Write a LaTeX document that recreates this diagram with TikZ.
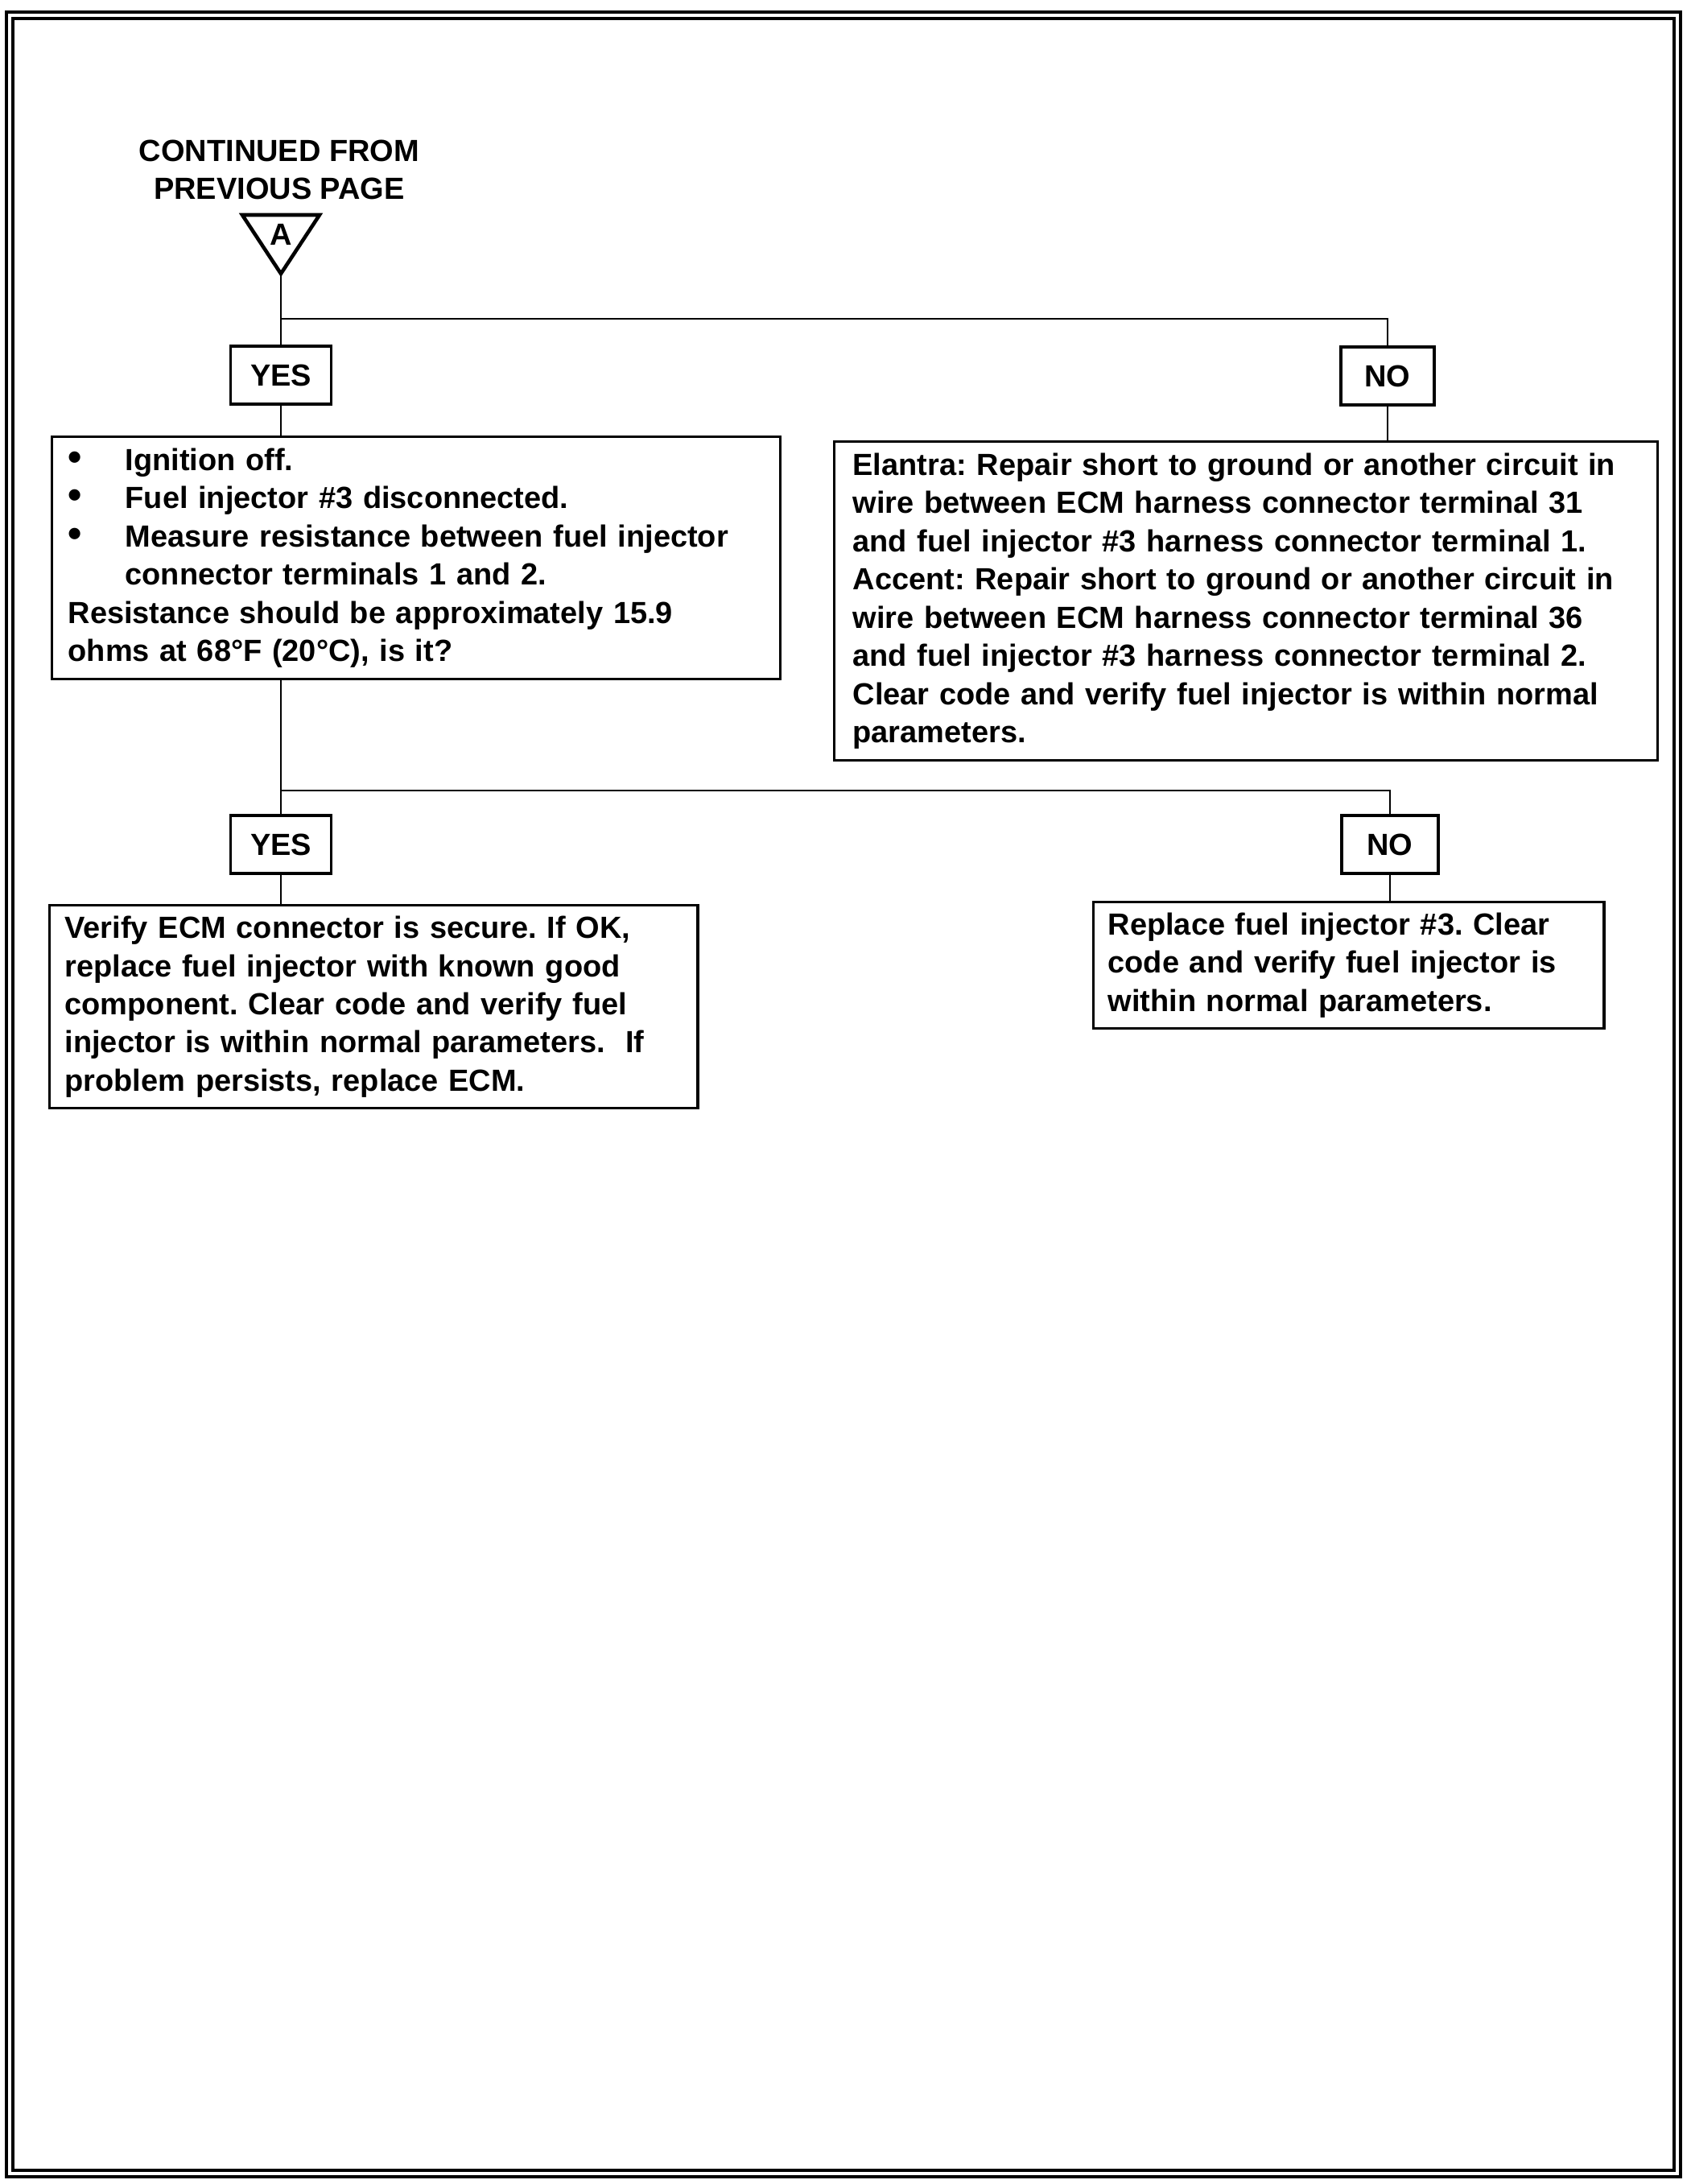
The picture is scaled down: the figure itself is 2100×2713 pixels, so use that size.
\documentclass[tikz,border=0pt]{standalone}
\usepackage{fontspec}
\setmainfont{Liberation Sans}
\usetikzlibrary{positioning}

\tikzset{
  answer/.style={draw, line width=0.9pt, minimum width=1.25cm, minimum height=0.72cm, inner sep=0pt},
  stepbox/.style={draw, line width=0.9pt, anchor=north west, align=left, inner ysep=0pt},
  link/.style={line width=0.8pt},
}
\newcommand{\bul}{\makebox[0.71cm][l]{\fontsize{14}{13.5}\selectfont\textbullet}}
\frenchspacing

\begin{document}
\begin{tikzpicture}[x=0.01cm, y=-0.01cm, font=\fontsize{10.8}{13.5}\selectfont\bfseries]
\useasboundingbox (0,0) rectangle (2100,2713);
\fill[white] (0,0) rectangle (2100,2713);

% Frame
\draw[line width=1.3pt] (8,15) rectangle (2088,2704);
\draw[line width=1.3pt] (16,23) rectangle (2080,2696);

% Connector A
\node[align=center] (cont) at (347,211) {CONTINUED FROM\\PREVIOUS PAGE};
\draw[line width=1.3pt] (301,267) -- (397,267) -- (349,340) -- cycle;
\node (conA) at (349,291) {A};
\coordinate (apexA) at (349,340);
\coordinate (splitA) at (349,396);

% First test
\node[answer] (yesA) at (349,466) {YES};
\node[answer, minimum width=1.16cm] (noA) at (1724,467) {NO};
\node[stepbox, text width=8.64cm, minimum height=3.01cm, inner xsep=0.2cm] (test) at (63,541) {%
\bul Ignition off.\\
\bul Fuel injector \#3 disconnected.\\
\bul Measure resistance between fuel injector\\
\hspace*{0.71cm}connector terminals 1 and 2.\\
Resistance should be approximately 15.9\\
ohms at 68°F (20°C), is it?};
\node[stepbox, text width=9.76cm, minimum height=3.96cm, inner xsep=0.23cm] (repair) at (1035,547) {%
Elantra: Repair short to ground or another circuit in\\
wire between ECM harness connector terminal 31\\
and fuel injector \#3 harness connector terminal 1.\\
Accent: Repair short to ground or another circuit in\\
wire between ECM harness connector terminal 36\\
and fuel injector \#3 harness connector terminal 2.\\
Clear code and verify fuel injector is within normal\\
parameters.};

\draw[link] (apexA) -- (yesA.north);
\draw[link] (splitA) -| (noA.north);
\draw[link] (yesA.south) -- (yesA.south |- test.north);
\draw[link] (noA.south) -- (noA.south |- repair.north);

% Second test
\coordinate (splitB) at (349,982);
\node[answer] (yesB) at (349,1049) {YES};
\node[answer, minimum width=1.2cm] (noB) at (1727,1049) {NO};
\node[stepbox, text width=7.67cm, minimum height=2.52cm, inner xsep=0.19cm] (verify) at (60,1123) {%
Verify ECM connector is secure. If OK,\\
replace fuel injector with known good\\
component. Clear code and verify fuel\\
injector is within normal parameters.\ \ If\\
problem persists, replace ECM.};
\node[stepbox, text width=5.98cm, minimum height=1.57cm, inner xsep=0.18cm] (replace) at (1357,1119) {%
Replace fuel injector \#3. Clear\\
code and verify fuel injector is\\
within normal parameters.};

\draw[link] (yesB.north |- test.south) -- (yesB.north);
\draw[link] (splitB) -| (noB.north);
\draw[link] (yesB.south) -- (yesB.south |- verify.north);
\draw[link] (noB.south) -- (noB.south |- replace.north);
\end{tikzpicture}
\end{document}
